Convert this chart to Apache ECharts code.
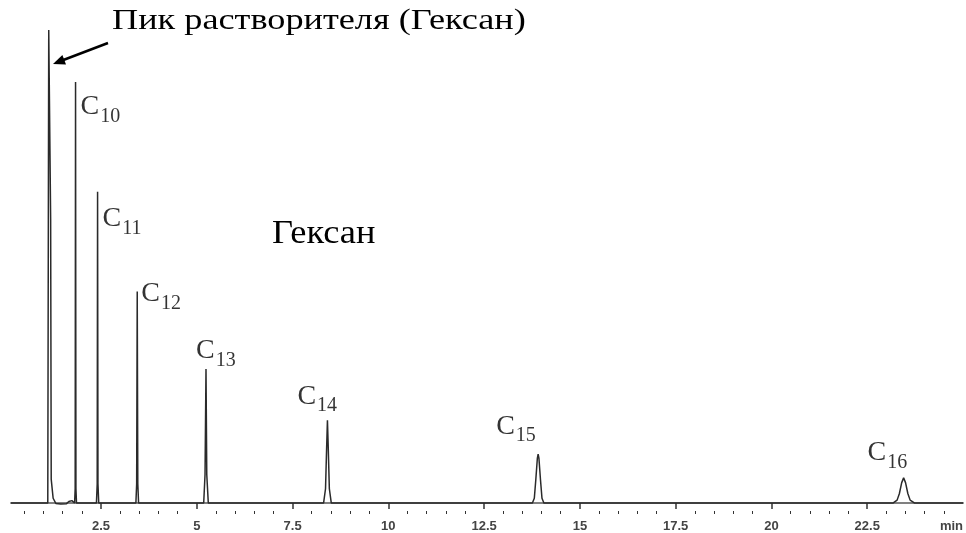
<!DOCTYPE html>
<html>
<head>
<meta charset="utf-8">
<script src="https://cdn.jsdelivr.net/npm/echarts@6/dist/echarts.min.js"></script>
<style>
html,body{margin:0;padding:0;background:#fff;}
#chart{width:966px;height:533px;}
</style>
</head>
<body>
<div id="chart"></div>
<script>
// Chromatogram trace: [retention time (min), detector signal (% of solvent peak)]
const chromatogram = [
  [0.15, 0], [1.11, 0], [1.125, 60], [1.135, 100], [1.175, 100], [1.185, 60], [1.20, 5],
  [1.25, 1], [1.32, -0.1], [1.45, -0.2], [1.60, -0.15], [1.66, 0.3], [1.70, 0], [1.74, 0.5], [1.77, 0.2],
  [1.81, 0], [1.825, 3], [1.835, 89], [1.845, 3], [1.86, 0],
  [2.38, 0], [2.40, 4], [2.41, 65.8], [2.42, 4], [2.44, 0],
  [3.41, 0], [3.43, 4], [3.445, 44.7], [3.46, 4], [3.48, 0],
  [5.18, 0], [5.215, 6], [5.24, 28.3], [5.26, 6], [5.30, 0],
  [8.31, 0], [8.36, 3], [8.39, 12], [8.41, 17.5], [8.43, 12], [8.46, 3], [8.51, 0],
  [13.76, 0], [13.81, 1], [13.85, 5], [13.89, 9.5], [13.91, 10.3], [13.93, 9.5], [13.97, 5], [14.01, 1], [14.06, 0],
  [23.18, 0], [23.28, 0.6], [23.34, 2], [23.40, 4.3], [23.45, 5.3], [23.50, 4.3], [23.56, 2], [23.62, 0.6], [23.73, 0],
  [25, 0]
];
// Alkane peaks (apex)
const peakNames = ['10', '11', '12', '13', '14', '15', '16'];
const peakTimes = [1.835, 2.41, 3.445, 5.24, 8.41, 13.91, 23.45];
const peakHeights = [89, 65.8, 44.7, 28.3, 17.5, 10.3, 5.3];
// Axis ticks
const majorTicks = [2.5, 5, 7.5, 10, 12.5, 15, 17.5, 20, 22.5];
const tickLabels = ['2.5', '5', '7.5', '10', '12.5', '15', '17.5', '20', '22.5'];
const minorTicks = [0.5, 1, 1.5, 2, 3, 3.5, 4, 4.5, 5.5, 6, 6.5, 7, 8, 8.5, 9, 9.5, 10.5, 11, 11.5, 12,
  13, 13.5, 14, 14.5, 15.5, 16, 16.5, 17, 18, 18.5, 19, 19.5, 20.5, 21, 21.5, 22, 23, 23.5, 24, 24.5];
const axisName = 'min';
const solventLabel = 'Пик растворителя (Гексан)';
const solventName = 'Гексан';

// label offsets (px) relative to each apex — styling only
const labelOffsets = [[5, 11], [5, 13], [4, -12], [-10, -32], [-30, -38], [-42, -42], [-36, -39]];

const serif = '"Liberation Serif", "DejaVu Serif", serif';
const sans = '"Liberation Sans", Arial, sans-serif';
const chart = echarts.init(document.getElementById('chart'), null, {renderer: 'canvas'});

const xCommon = {type: 'value', min: 0.15, max: 25, position: 'bottom', splitLine: {show: false}};

const option = {
  animation: false,
  backgroundColor: '#fff',
  grid: {left: 11, right: 1, top: 30, bottom: 21},
  xAxis: [
    Object.assign({}, xCommon, {
      axisLine: {show: true, lineStyle: {color: '#808080', width: 2}},
      axisTick: {show: true, customValues: majorTicks, length: 6, lineStyle: {color: '#333', width: 1.5}},
      axisLabel: {
        show: true, customValues: majorTicks, margin: 9,
        formatter: v => tickLabels[majorTicks.indexOf(v)] ?? String(v),
        fontSize: 13, fontWeight: 'bold', color: '#444', fontFamily: sans
      },
      name: axisName, nameLocation: 'end', nameGap: 0,
      nameTextStyle: {align: 'right', verticalAlign: 'top', padding: [17, 0, 0, 0], fontSize: 13,
        fontWeight: 'bold', color: '#444', fontFamily: sans}
    }),
    Object.assign({}, xCommon, {
      axisLine: {show: false},
      axisTick: {show: true, customValues: minorTicks, length: 3, lineStyle: {color: '#333', width: 1}},
      axisLabel: {show: false}
    })
  ],
  yAxis: {type: 'value', min: -1.7, max: 100, show: false, splitLine: {show: false}},
  series: [
    {
      type: 'line',
      data: chromatogram,
      xAxisIndex: 0,
      showSymbol: false,
      symbol: 'none',
      sampling: null,
      lineStyle: {color: '#2a2a2a', width: 1.5},
      z: 2
    },
    {
      type: 'scatter',
      xAxisIndex: 0,
      symbolSize: 0,
      silent: true,
      data: peakTimes.map((t, i) => ({
        value: [t, peakHeights[i]],
        label: {position: labelOffsets[i]},
        name: peakNames[i]
      })),
      label: {
        show: true,
        align: 'left',
        verticalAlign: 'top',
        formatter: p => '{c|C}{s|' + p.name + '}',
        rich: {
          c: {fontSize: 28, fontFamily: serif, color: '#000', verticalAlign: 'bottom', padding: [0, 1, 6, 0]},
          s: {fontSize: 20, fontFamily: serif, color: '#000', verticalAlign: 'bottom'}
        }
      },
      z: 3
    }
  ],
  graphic: [
    {type: 'text', x: 112, y: 7, scaleX: 1.25, style: {text: solventLabel, font: '29px ' + serif, fill: '#000'}},
    {type: 'text', x: 272, y: 217, scaleX: 1.07, style: {text: solventName, font: '34px ' + serif, fill: '#000'}},
    {type: 'line', shape: {x1: 108, y1: 43, x2: 62, y2: 60.5}, style: {stroke: '#000', lineWidth: 2.5}},
    {type: 'polygon', shape: {points: [[53, 64], [66, 64.4], [62.4, 55]]}, style: {fill: '#000'}}
  ]
};
chart.setOption(option);
</script>
</body>
</html>
